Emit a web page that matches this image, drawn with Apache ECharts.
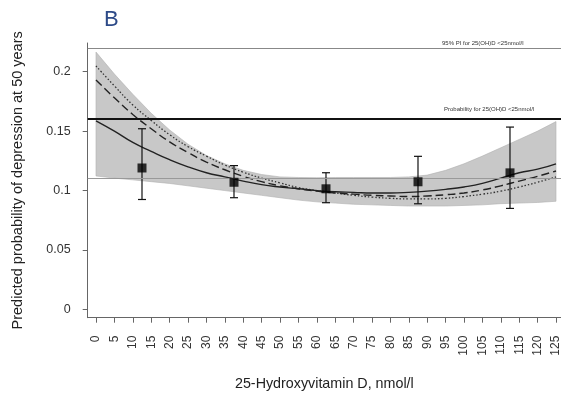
<!DOCTYPE html>
<html>
<head>
<meta charset="utf-8">
<script src="https://cdn.jsdelivr.net/npm/echarts@6/dist/echarts.min.js"></script>
<style>html,body{margin:0;padding:0;background:#fff;}#c{width:561px;height:396px;}</style>
</head>
<body>
<div id="c"></div>
<script>
// ---- data ----
var xGrid = [0,5,10,15,20,25,30,35,40,45,50,55,60,65,70,75,80,85,90,95,100,105,110,115,120,125];
var solidLine = [0.1587,0.150,0.1405,0.133,0.126,0.120,0.115,0.1115,0.108,0.105,0.103,0.1015,0.100,0.099,0.0985,0.098,0.098,0.0985,0.0995,0.101,0.103,0.106,0.1105,0.115,0.118,0.1225];
var dashedLine = [0.193,0.178,0.164,0.152,0.141,0.132,0.124,0.1175,0.112,0.1075,0.104,0.1015,0.0995,0.098,0.097,0.096,0.0955,0.095,0.0955,0.0965,0.098,0.1005,0.104,0.108,0.112,0.1165];
var dottedLine = [0.2048,0.188,0.172,0.159,0.147,0.137,0.129,0.1215,0.1155,0.1105,0.1065,0.1025,0.100,0.098,0.096,0.0945,0.0935,0.093,0.093,0.0935,0.095,0.097,0.0995,0.103,0.107,0.1115];
var bandUpper = [0.2165,0.198,0.181,0.165,0.151,0.139,0.1295,0.1225,0.117,0.1135,0.1115,0.111,0.1108,0.111,0.111,0.111,0.111,0.1115,0.113,0.117,0.1225,0.129,0.136,0.143,0.150,0.158];
var bandLower = [0.1123,0.1105,0.109,0.1075,0.106,0.104,0.102,0.100,0.098,0.096,0.094,0.092,0.0905,0.0895,0.0885,0.088,0.0875,0.087,0.087,0.087,0.0875,0.088,0.089,0.0895,0.090,0.091];
var pointX = [12.5,37.5,62.5,87.5,112.5];
var pointY = [0.119,0.107,0.1015,0.1074,0.1149];
var pointLo = [0.0925,0.094,0.0898,0.0889,0.085];
var pointHi = [0.152,0.121,0.115,0.1288,0.1534];
var refPIUpper = 0.2165;
var refProb = 0.1587;
var refPILower = 0.1123;
var xTicks = [0,5,10,15,20,25,30,35,40,45,50,55,60,65,70,75,80,85,90,95,100,105,110,115,120,125];
var yTicks = [0,0.05,0.1,0.15,0.2];
var labelPI = '95% PI for 25(OH)D <25nmol/l';
var labelProb = 'Probability for 25(OH)D <25nmol/l';

function pairs(xs, ys){ return xs.map(function(x,i){ return [x, ys[i]]; }); }

var chart = echarts.init(document.getElementById('c'), null, {renderer:'canvas'});
var FONT = 'Liberation Sans, Arial, sans-serif';
var option = {
  animation: false,
  backgroundColor: '#fff',
  title: {
    text: 'B', left: 99, top: 4,
    textStyle: {fontFamily: FONT, fontSize: 22, fontWeight: 'normal', color: '#2d4a88'}
  },
  grid: {left: 87.7, right: 0, top: 43, bottom: 78.3, containLabel: false, outerBoundsMode: 'none'},
  xAxis: {
    type: 'value', min: -2.255, max: 126.36,
    name: '25-Hydroxyvitamin D, nmol/l', nameLocation: 'middle', nameGap: 59,
    nameTextStyle: {fontFamily: FONT, fontSize: 14.3, color: '#222'},
    axisLine: {show: true, onZero: false, lineStyle: {color: '#666', width: 1}},
    axisTick: {show: true, inside: false, length: 5, customValues: xTicks, lineStyle: {color: '#666'}},
    axisLabel: {show: true, customValues: xTicks, rotate: 90, margin: 18, fontFamily: FONT, fontSize: 12, color: '#333'},
    splitLine: {show: false}
  },
  yAxis: {
    type: 'value', min: -0.0069, max: 0.2241,
    name: 'Predicted probability of depression at 50 years', nameLocation: 'middle', nameGap: 62,
    nameTextStyle: {fontFamily: FONT, fontSize: 14.5, color: '#222'},
    axisLine: {show: true, onZero: false, lineStyle: {color: '#666', width: 1}},
    axisTick: {show: true, length: 5, customValues: yTicks, lineStyle: {color: '#666'}},
    axisLabel: {show: true, customValues: yTicks, margin: 17, fontFamily: FONT, fontSize: 12.5, color: '#333'},
    splitLine: {show: false}
  },
  graphic: [
    {type: 'text', left: 442, top: 40, style: {text: labelPI, font: '6px ' + FONT, fill: '#333'}},
    {type: 'text', left: 444, top: 106, style: {text: labelProb, font: '6px ' + FONT, fill: '#333'}}
  ],
  series: [
    {
      type: 'line', data: [], z: 1, silent: true,
      markLine: {
        silent: true, symbol: 'none', label: {show: false},
        data: [
          {yAxis: refPIUpper, lineStyle: {color: '#888', width: 1, type: 'solid'}},
          {yAxis: refProb, lineStyle: {color: '#111', width: 2, type: 'solid'}},
          {yAxis: refPILower, lineStyle: {color: '#999', width: 1, type: 'solid'}}
        ]
      }
    },
    {
      type: 'custom', z: 2, silent: true,
      data: [[xGrid[0], bandLower[0], bandUpper[0]]],
      renderItem: function(params, api){
        var pts = [];
        for (var i = 0; i < xGrid.length; i++) pts.push(api.coord([xGrid[i], bandUpper[i]]));
        for (var j = xGrid.length - 1; j >= 0; j--) pts.push(api.coord([xGrid[j], bandLower[j]]));
        return {type: 'polygon', shape: {points: pts},
          style: {fill: '#c8c8c8', stroke: '#b0b0b0', lineWidth: 0.6}};
      }
    },
    {
      type: 'line', data: pairs(xGrid, dottedLine), z: 3, symbol: 'none', smooth: true,
      lineStyle: {color: '#333', width: 1.3, type: [1.5, 2]}
    },
    {
      type: 'line', data: pairs(xGrid, dashedLine), z: 3, symbol: 'none', smooth: true,
      lineStyle: {color: '#222', width: 1.4, type: [8, 4]}
    },
    {
      type: 'line', data: pairs(xGrid, solidLine), z: 3, symbol: 'none', smooth: true,
      lineStyle: {color: '#222', width: 1.4}
    },
    {
      type: 'custom', z: 4,
      data: pointX.map(function(x,i){ return [x, pointLo[i], pointHi[i]]; }),
      encode: {x: 0, y: [1, 2]},
      renderItem: function(params, api){
        var x = api.value(0);
        var lo = api.coord([x, api.value(1)]);
        var hi = api.coord([x, api.value(2)]);
        var w = 4;
        var st = {stroke: '#111', lineWidth: 1.2};
        return {type: 'group', children: [
          {type: 'line', shape: {x1: lo[0], y1: lo[1], x2: hi[0], y2: hi[1]}, style: st},
          {type: 'line', shape: {x1: lo[0]-w, y1: lo[1], x2: lo[0]+w, y2: lo[1]}, style: st},
          {type: 'line', shape: {x1: hi[0]-w, y1: hi[1], x2: hi[0]+w, y2: hi[1]}, style: st}
        ]};
      }
    },
    {
      type: 'scatter', z: 5, data: pairs(pointX, pointY), symbol: 'rect', symbolSize: 9,
      itemStyle: {color: '#000'}
    }
  ]
};
chart.setOption(option);
</script>
</body>
</html>
